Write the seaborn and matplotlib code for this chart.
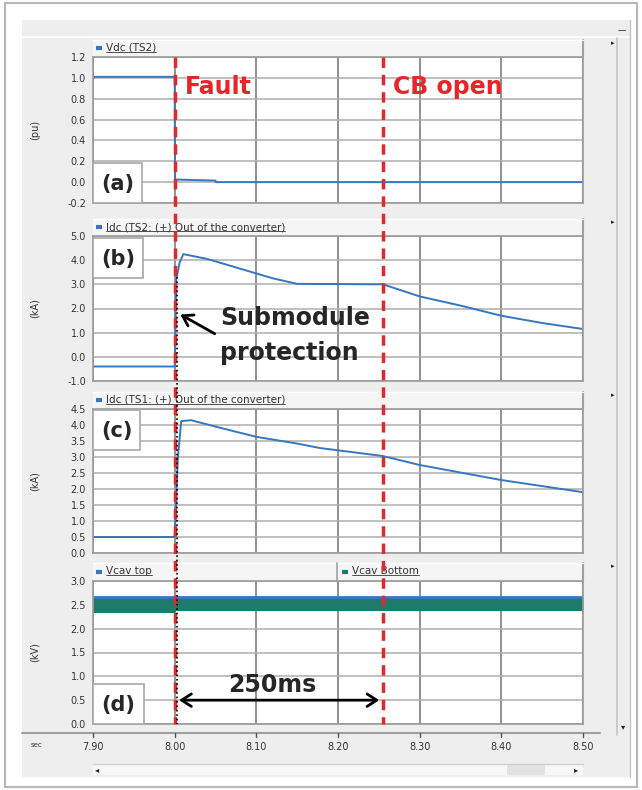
import matplotlib
matplotlib.use("Agg")
import matplotlib.pyplot as plt
import matplotlib.patches as mpatches
import matplotlib.transforms as mtransforms
from matplotlib.lines import Line2D
import seaborn as sns

sns.set_style("white")
plt.rcParams['font.family'] = ['DejaVu Sans']

# ---- data ----
t_vdc = [7.90, 8.00, 8.0005, 8.05, 8.0505, 8.50]
vdc_ts2 = [1.01, 1.01, 0.025, 0.015, 0.0, 0.0]

t_idc2 = [7.90, 8.00, 8.002, 8.006, 8.0107, 8.04, 8.07, 8.10, 8.12, 8.15,
          8.255, 8.30, 8.35, 8.40, 8.45, 8.50]
idc_ts2 = [-0.4, -0.4, 3.2, 3.9, 4.25, 4.05, 3.75, 3.45, 3.25, 3.02,
           3.0, 2.5, 2.12, 1.7, 1.4, 1.15]

t_idc1 = [7.90, 8.00, 8.004, 8.008, 8.02, 8.05, 8.10, 8.15, 8.178,
          8.255, 8.30, 8.40, 8.50]
idc_ts1 = [0.5, 0.5, 3.0, 4.12, 4.15, 3.95, 3.63, 3.42, 3.28,
           3.03, 2.75, 2.28, 1.9]

t_vcav = [7.90, 8.00, 8.0005, 8.50]
vcav_top = [2.66, 2.66, 2.66, 2.66]
vcav_bottom = [2.34, 2.34, 2.38, 2.38]

x_ticks = [7.90, 8.00, 8.10, 8.20, 8.30, 8.40, 8.50]
t_fault = 8.00
t_cb = 8.255

panel_letters = ["(a)", "(b)", "(c)", "(d)"]
y_units = ["(pu)", "(kA)", "(kA)", "(kV)"]
y_ranges = [(-0.2, 1.2, 0.2), (-1.0, 5.0, 1.0), (0.0, 4.5, 0.5), (0.0, 3.0, 0.5)]
legends = ["Vdc (TS2)", "Idc (TS2: (+) Out of the converter)",
           "Idc (TS1: (+) Out of the converter)", "Vcav top"]

BLUE = "#3677c0"
TEAL = "#1d7b6b"
RED = "#e8262a"

W, H = 642, 790
fig = plt.figure(figsize=(W / 100, H / 100), dpi=100)


def fx(px):
    return px / W


def fy(py):
    return 1 - py / H


def rect(x0, y0, x1, y1, **kw):
    r = mpatches.Rectangle((fx(x0), fy(y1)), (x1 - x0) / W, (y1 - y0) / H,
                           transform=fig.transFigure, figure=fig, **kw)
    fig.patches.append(r)


def fline(x0, y0, x1, y1, **kw):
    fig.add_artist(Line2D([fx(x0), fx(x1)], [fy(y0), fy(y1)],
                          transform=fig.transFigure, **kw))


# window chrome
rect(5, 3, 637, 787, fc="white", ec="#b8b8b8", lw=1.5, zorder=-20)
rect(22, 20, 630, 777, fc="#eeeeee", ec="none", zorder=-19)
fline(22, 37, 630, 37, color="white", lw=1.2, zorder=-18)
fline(617, 38, 617, 735, color="#c4c4c4", lw=1.2, zorder=-18)
fline(630, 20, 630, 777, color="#c4c4c4", lw=1.0, zorder=-18)
fig.text(fx(622), fy(31), "—", fontsize=6, ha="center", va="center")
fig.text(fx(623), fy(727), "▾", fontsize=6, ha="center", va="center")

panels = [(57, 203), (236, 381), (409, 553), (581, 724)]
strips = [(40, 56), (219, 235), (392, 408), (563, 580)]
box_px = [(93, 163, 142, 203), (93, 238, 143, 278),
          (93, 410, 140, 450), (93, 684, 144, 724)]

axes = []
legend_texts = []
for i, ((top, bot), (s0, s1)) in enumerate(zip(panels, strips)):
    ax = fig.add_axes([fx(93), fy(bot), (583 - 93) / W, (bot - top) / H])
    axes.append(ax)
    lo, hi, step = y_ranges[i]
    n = int(round((hi - lo) / step))
    yt = [lo + k * step for k in range(n + 1)]
    ax.set_ylim(lo, hi)
    ax.set_yticks(yt)
    ax.set_yticklabels(["%.1f" % v for v in yt], fontsize=7, color="#333333")
    ax.set_xlim(7.90, 8.50)
    ax.set_xticks(x_ticks)
    ax.set_facecolor("white")
    ax.set_axisbelow(True)
    ax.grid(True, axis="y", color="#adadad", lw=1.1)
    ax.grid(True, axis="x", color="#909090", lw=1.4)
    for sp in ax.spines.values():
        sp.set_color("#9a9a9a")
        sp.set_linewidth(1.2)
    ax.tick_params(axis="y", direction="out", length=3, width=1,
                   color="#555555", pad=2)
    ax.tick_params(axis="x", length=0)
    if i < 3:
        ax.set_xticklabels([])

    # legend strip above the panel
    rect(93, s0, 583, s1, fc="#f5f5f5", ec="none", zorder=-5)
    fline(583, s0, 583, s1, color="#a0a0a0", lw=1.5, zorder=-4)
    fline(93, s0, 583, s0, color="white", lw=1.0, zorder=-4)
    fig.text(fx(613), fy(s0 + 3), "▸", fontsize=5, ha="center", va="center")
    ym = (s0 + s1) / 2
    fline(96, ym, 102, ym, color=BLUE, lw=3, solid_capstyle="butt")
    legend_texts.append(fig.text(fx(106), fy(ym), legends[i], fontsize=7.5,
                                 color="#333333", va="center", ha="left"))

    # units label
    fig.text(fx(35), fy((top + bot) / 2), y_units[i], fontsize=7,
             rotation=90, ha="center", va="center", color="#333333")

    # panel letter boxes
    bx0, by0, bx1, by1 = box_px[i]
    rect(bx0, by0, bx1, by1, fc="white", ec="#a8a8a8", lw=1.2, zorder=5)
    fig.text(fx((bx0 + bx1) / 2), fy((by0 + by1) / 2 + 1), panel_letters[i],
             fontsize=15, fontweight="bold", ha="center", va="center",
             zorder=6)

ax_a, ax_b, ax_c, ax_d = axes

# second legend entry in panel (d)
s0, s1 = strips[3]
ym = (s0 + s1) / 2
fline(337, s0, 337, s1, color="#a0a0a0", lw=1.2)
fline(342, ym, 348, ym, color=TEAL, lw=3, solid_capstyle="butt")
legend_texts.append(fig.text(fx(352), fy(ym), "Vcav Bottom", fontsize=7.5,
                             color="#333333", va="center", ha="left"))

# curves
sns.lineplot(x=t_vdc, y=vdc_ts2, ax=ax_a, color=BLUE, lw=1.4,
             estimator=None, sort=False)
sns.lineplot(x=t_idc2, y=idc_ts2, ax=ax_b, color=BLUE, lw=1.4,
             estimator=None, sort=False)
sns.lineplot(x=t_idc1, y=idc_ts1, ax=ax_c, color=BLUE, lw=1.4,
             estimator=None, sort=False)
ax_d.fill_between(t_vcav, vcav_bottom, vcav_top, color=TEAL, lw=0, zorder=2)
sns.lineplot(x=t_vcav, y=vcav_top, ax=ax_d, color=BLUE, lw=2.0,
             estimator=None, sort=False)

# x axis labels (bottom bar)
ax_d.set_xticklabels(["%.2f" % v for v in x_ticks], fontsize=7,
                     color="#333333")
ax_d.tick_params(axis="x", pad=13)
fline(22, 733, 600, 733, color="#a0a0a0", lw=1.5)
xbl = mtransforms.blended_transform_factory(ax_d.transData, fig.transFigure)
for v in x_ticks:
    fig.add_artist(Line2D([v, v], [fy(733), fy(737)], transform=xbl,
                          color="#555555", lw=1))
fig.text(fx(37), fy(745), "sec", fontsize=5, ha="center", va="center",
         color="#333333")

# bottom scroll bar
rect(93, 764, 583, 775, fc="#f7f7f7", ec="none", zorder=-4)
fline(93, 764, 583, 764, color="#d0d0d0", lw=1)
rect(507, 765, 545, 775, fc="#e2e2e2", ec="none", zorder=-3)
fig.text(fx(97), fy(770), "◂", fontsize=6, ha="center", va="center")
fig.text(fx(576), fy(770), "▸", fontsize=6, ha="center", va="center")

# event lines spanning all panels
for tv in (t_fault, t_cb):
    fig.add_artist(Line2D([tv, tv], [fy(57), fy(724)], transform=xbl,
                          color=RED, lw=2.5, dashes=(3, 2), zorder=4))
fig.add_artist(Line2D([8.003, 8.003], [fy(277), fy(724)], transform=xbl,
                      color="black", lw=1.2, ls=":", zorder=4.5))

# annotations
ax_a.text(8.013, 0.91, "Fault", color=RED, fontsize=17, fontweight="bold",
          ha="left", va="center")
ax_a.text(8.267, 0.91, "CB open", color=RED, fontsize=17, fontweight="bold",
          ha="left", va="center")

fig.text(fx(220), fy(325), "Submodule", fontsize=17, fontweight="bold",
         ha="left", va="baseline", zorder=6)
fig.text(fx(220), fy(360), "protection", fontsize=17, fontweight="bold",
         ha="left", va="baseline", zorder=6)
ax_b.annotate("", xy=(8.004, 1.81), xytext=(8.052, 0.9),
              arrowprops=dict(arrowstyle="->,head_length=0.7,head_width=0.45",
                              lw=2, color="black"), zorder=6)

ax_d.annotate("", xy=(8.002, 0.5), xytext=(8.254, 0.5),
              arrowprops=dict(arrowstyle="<->,head_length=0.7,head_width=0.45",
                              lw=2, color="black"), zorder=6)
ax_d.text(8.12, 0.82, "250ms", fontsize=17, fontweight="bold",
          ha="center", va="center", zorder=6)

# underline the legend labels
fig.canvas.draw()
inv = fig.transFigure.inverted()
for t in legend_texts:
    bb = t.get_window_extent()
    (x0, y0), (x1, _) = inv.transform([(bb.x0, bb.y0), (bb.x1, bb.y1)])
    fig.add_artist(Line2D([x0, x1], [y0 + 0.0015, y0 + 0.0015],
                          transform=fig.transFigure, color="#333333", lw=0.6))

fig.savefig("out.png", dpi=100)
